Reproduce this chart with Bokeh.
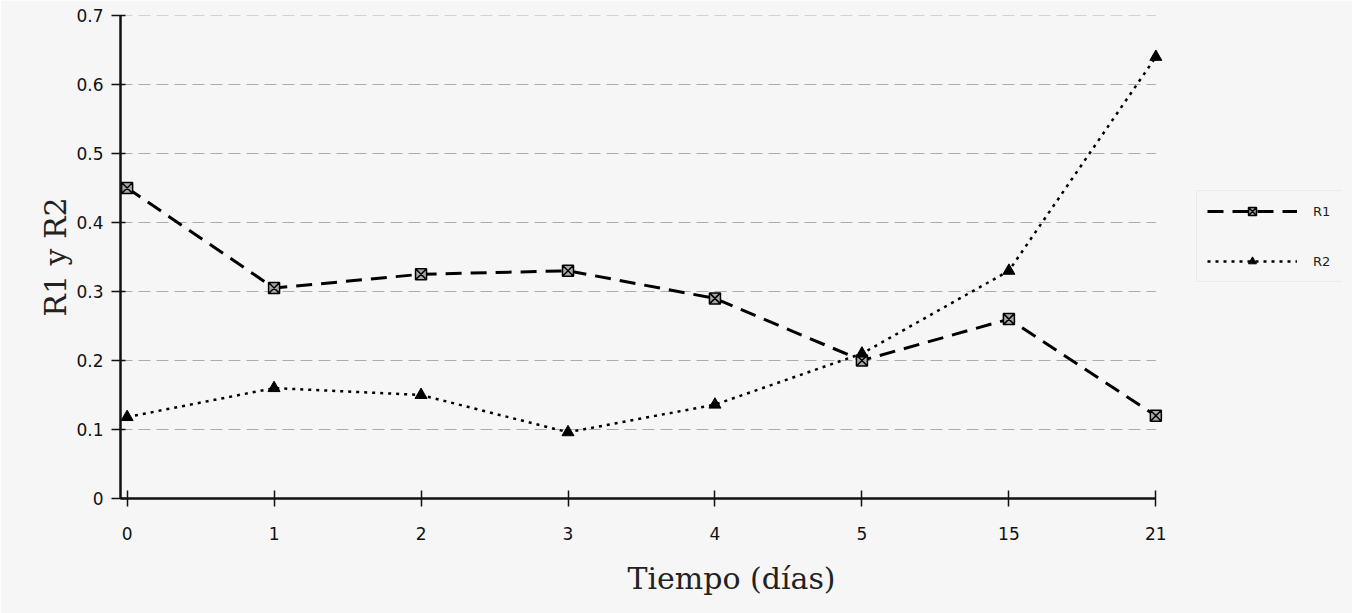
from bokeh.plotting import figure
from bokeh.models import (Range1d, FixedTicker, Legend, LegendItem, Title)
from bokeh.embed import file_html
from bokeh.resources import INLINE

# ---- data ----
dias = ["0", "1", "2", "3", "4", "5", "15", "21"]
R1 = [0.45, 0.305, 0.325, 0.33, 0.29, 0.20, 0.26, 0.12]
R2 = [0.118, 0.16, 0.15, 0.096, 0.136, 0.21, 0.33, 0.64]
y_ticks = [0, 0.1, 0.2, 0.3, 0.4, 0.5, 0.6, 0.7]
y_labels = ["0", "0.1", "0.2", "0.3", "0.4", "0.5", "0.6", "0.7"]

pos = list(range(len(dias)))
last = len(dias) - 1

BG = "#f6f6f6"
p = figure(width=1352, height=613,
           x_range=Range1d(-0.045, 8.27),
           y_range=Range1d(0, 0.7),
           output_backend="svg", toolbar_location=None,
           min_border_left=120, min_border_right=10,
           min_border_top=15, min_border_bottom=115)
p.background_fill_color = BG
p.border_fill_color = BG
p.outline_line_color = None

# axes
xa = p.xaxis[0]
xa.bounds = (-0.045, last)
xa.ticker = FixedTicker(ticks=pos)
xa.major_label_overrides = {i: d for i, d in enumerate(dias)}
xa.axis_line_width = 2.5
xa.axis_line_color = "#111111"
xa.major_tick_line_color = "#111111"
xa.major_tick_line_width = 1.5
xa.major_tick_in = 8
xa.major_tick_out = 8
xa.minor_tick_line_color = None
xa.major_label_standoff = 20
xa.major_label_text_font = "DejaVu Sans"
xa.major_label_text_font_size = "17px"
xa.major_label_text_color = "#111111"

ya = p.yaxis[0]
ya.ticker = FixedTicker(ticks=y_ticks)
ya.major_label_overrides = {t: l for t, l in zip(y_ticks, y_labels)}
ya.axis_line_width = 2.5
ya.axis_line_color = "#111111"
ya.major_tick_line_color = "#111111"
ya.major_tick_line_width = 1.5
ya.major_tick_in = 5
ya.major_tick_out = 9
ya.minor_tick_line_color = None
ya.major_label_standoff = 8
ya.major_label_text_font = "DejaVu Sans"
ya.major_label_text_font_size = "17px"
ya.major_label_text_color = "#111111"

p.xgrid.grid_line_color = None
p.ygrid.grid_line_color = None

# horizontal gridlines spanning the category axis only
gy = y_ticks[1:]
p.segment(x0=[-0.045] * len(gy), x1=[last] * len(gy), y0=gy, y1=gy,
          line_color="#9a9a9a", line_dash="12 6", line_width=1,
          line_alpha=0.8)

# series
l1 = p.line(pos, R1, line_color="black", line_width=3, line_dash="16 9")
m1 = p.scatter(pos, R1, marker="square_x", size=11, fill_color="#a8a8a8",
               line_color="black", line_width=1.5)
l2 = p.line(pos, R2, line_color="black", line_width=2.5, line_dash="3 5")
m2 = p.scatter(pos, R2, marker="triangle", size=12, fill_color="black",
               line_color="black")

legend = Legend(items=[LegendItem(label="R1", renderers=[l1, m1]),
                       LegendItem(label="R2", renderers=[l2, m2])],
                location=(1076, 216), orientation="vertical",
                glyph_width=90, glyph_height=20, spacing=30,
                label_standoff=16, padding=10,
                label_text_font="DejaVu Sans", label_text_font_size="13px",
                label_text_color="#222222",
                border_line_color="#d8d8d8", border_line_alpha=0.35,
                background_fill_alpha=0)
p.add_layout(legend)

xt = Title(text="Tiempo (días)", align="center", text_font="DejaVu Serif",
           text_font_size="30px", text_font_style="normal",
           text_color="#222222", standoff=32)
p.add_layout(xt, "below")
yt = Title(text="R1 y R2", align="center", text_font="DejaVu Serif",
           text_font_size="30px", text_font_style="normal",
           text_color="#222222", standoff=2)
p.add_layout(yt, "left")

open("out.html", "w").write(file_html(p, INLINE))
